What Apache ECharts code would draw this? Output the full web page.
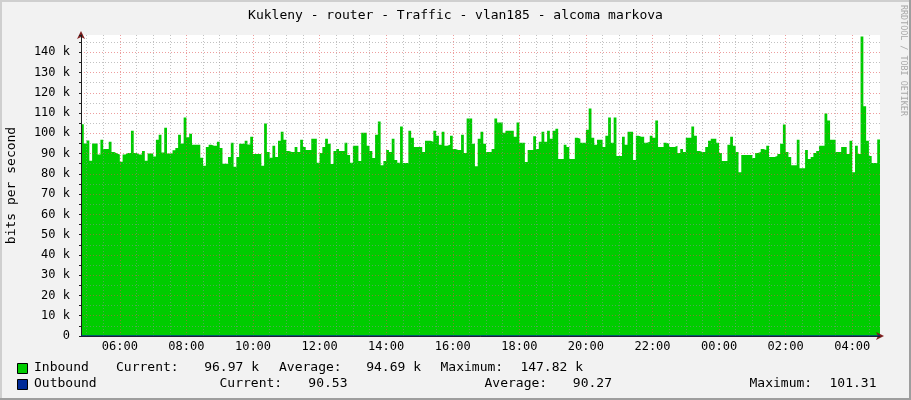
<!DOCTYPE html>
<html>
<head>
<meta charset="utf-8">
<title>Kukleny - router - Traffic - vlan185 - alcoma markova</title>
<script src="https://cdn.jsdelivr.net/npm/echarts@6.0.0/dist/echarts.min.js"></script>
<style>
  html, body { margin: 0; padding: 0; background: #f2f2f2; }
  #trafficChart { width: 911px; height: 400px; }
</style>
</head>
<body>
<div id="trafficChart"></div>
<script>
// 5 minute samples, inbound traffic in k bits per second (04:50 -> 04:50 next day)
const inboundK = [
  104.5, 95, 96.5, 86.5, 95, 95, 89.5, 96.8, 92.3, 92.3, 95.8, 90.8, 90, 89.5, 86, 89.5, 90.3, 90.3,
  101.3, 90.3, 89.5, 89.5, 91.3, 86.5, 90, 90, 88.5, 96.8, 99.3, 90.5, 102.8, 90, 90, 91.7, 92.8, 99.3,
  95, 107.8, 98, 99.8, 94.3, 94.3, 94.3, 88, 84, 93.3, 94.3, 93.8, 93.8, 95.8, 92.8, 85, 85, 88.3,
  95.3, 83.5, 88.3, 94.8, 94.8, 96.3, 94.5, 98.3, 89.8, 89.8, 89.8, 84, 104.8, 90.8, 88, 93.8, 88.3, 96.3,
  100.8, 96.8, 91.3, 90.8, 90.8, 93.3, 90.8, 96.8, 93.3, 91.8, 91.8, 97.3, 97.3, 85.5, 90.3, 93.3, 97.3, 94.8,
  84.8, 91.3, 92.3, 91.3, 91.3, 95.3, 89.3, 85.5, 93.8, 93.8, 86.3, 100.3, 100.3, 93.8, 91.3, 87.8, 99.3, 105.8,
  84.3, 86.3, 91.8, 90.8, 97.3, 86.8, 85.5, 103.3, 85.3, 85.3, 101.3, 97.8, 93.3, 93.3, 93.3, 90.8, 96.3, 96.3,
  95.8, 101.3, 98.8, 94.3, 100.8, 93.8, 94.3, 98.8, 92.3, 91.8, 91.8, 99.3, 90.3, 107.3, 107.3, 94.8, 83.8, 97.3,
  100.8, 94.8, 90.8, 90.8, 92.3, 107.3, 105.3, 105.3, 100.3, 101.3, 101.3, 101.3, 98.3, 105.3, 95.3, 95.3, 85.8, 91.8,
  91.8, 98.5, 92.3, 95.8, 100.8, 95.8, 101.3, 97.3, 101.3, 102.3, 87.3, 87.3, 94.3, 93.3, 87.3, 87.3, 97.8, 97.3,
  95.3, 95.3, 101.8, 112.3, 97.8, 94.3, 96.8, 96.8, 93.3, 98.8, 107.8, 95.3, 107.8, 88.8, 88.8, 98.3, 94.3, 100.8,
  100.8, 86.8, 98.8, 98.3, 98.3, 95.3, 95.8, 98.8, 97.8, 106.3, 93.3, 93.3, 95.3, 94.8, 93.3, 93.3, 93.8, 90.3,
  92.3, 90.8, 97.8, 97.8, 103.3, 98.8, 91.3, 90.8, 90.8, 93.3, 96.3, 97.3, 97.3, 95.3, 90.3, 86.3, 86.3, 94.3,
  98.3, 93.8, 90.8, 80.8, 89.3, 89.3, 89.3, 89.3, 87.8, 90.3, 90.8, 92.3, 91.8, 93.8, 88.3, 88.3, 88.8, 89.8,
  94.8, 104.3, 90.8, 88.3, 84.3, 84.3, 96.8, 82.8, 82.8, 91.8, 87.3, 88.3, 90.3, 91.3, 93.8, 93.8, 109.8, 106.3,
  96.8, 96.8, 90.8, 90.8, 93.3, 93.3, 89.8, 96.3, 80.8, 93.8, 89.8, 147.82, 113.3, 96.3, 88.8, 85.3, 85.3, 96.97
];

// outbound is ~90 bit/s, flat on the zero line at this scale
const outboundMinutes = [290, 1730];
const outboundK = [0.09027, 0.09053];

const startMinute = 290;   // 04:50
const endMinute = 1730;    // 04:50 next day
const stepMinutes = 5;
const yMaxK = 148.5;

const legendNames = ['Inbound', 'Outbound'];
const inboundStats = ['96.97 k', '94.69 k', '147.82 k'];
const outboundStats = ['90.53', '90.27', '101.31'];

const MONO = '"DejaVu Sans Mono", "Liberation Mono", monospace';
const AXIS = '#1f1f1f';
const ARROW = '#801f1f';
const GRID = 'rgba(143, 143, 143, 0.55)';
const MGRID = 'rgba(222, 79, 79, 0.55)';
const CLEAR = 'rgba(0, 0, 0, 0)';
const GREEN = '#00cc00';
const BLUE = '#002a97';

function pad2(n) {
  return n < 10 ? `0${n}` : `${n}`;
}

function formatClock(minute) {
  if (minute % 120 !== 0) return '';
  const h = Math.floor(minute / 60) % 24;
  return `${pad2(h)}:00`;
}

function formatK(value) {
  if (value % 10 !== 0) return '';
  return value === 0 ? '0' : `${value} k`;
}

// split line colours cycle by tick index, ticks every 10 min starting at startMinute
function xGridColors() {
  const out = [];
  for (let k = 0; k < 12; k += 1) {
    const m = startMinute + k * 10;
    out.push(m % 120 === 0 ? MGRID : m % 30 === 0 ? GRID : CLEAR);
  }
  return out;
}

function yGridColors() {
  return [0, 5].map((v) => (v % 10 === 0 ? MGRID : GRID));
}

function buildInbound() {
  const points = inboundK.map((v, i) => [startMinute + i * stepMinutes, v]);
  // close the last 5 minute step at the right edge
  points.push([endMinute, inboundK[inboundK.length - 1]]);
  return points;
}

function legendText(text, x, y, align) {
  return {
    type: 'text',
    silent: true,
    style: {
      text,
      x,
      y,
      textAlign: align || 'left',
      textVerticalAlign: 'middle',
      font: `13px ${MONO}`,
      fill: '#000'
    }
  };
}

function legendSwatch(color, y) {
  return {
    type: 'rect',
    silent: true,
    shape: { x: 17.5, y, width: 10, height: 10 },
    style: { fill: color, stroke: '#000', lineWidth: 1 }
  };
}

const chart = echarts.init(document.getElementById('trafficChart'), null, { renderer: 'canvas' });

const plotGrid = { left: 81, right: 31, top: 35, bottom: 64, containLabel: false, outerBoundsMode: 'none' };

chart.setOption({
  animation: false,
  backgroundColor: '#f2f2f2',
  title: {
    text: 'Kukleny - router - Traffic - vlan185 - alcoma markova',
    left: 'center',
    top: 4,
    textStyle: { fontFamily: MONO, fontSize: 13, fontWeight: 'normal', color: '#000' }
  },
  grid: [
    Object.assign({ backgroundColor: '#ffffff', show: true, borderWidth: 0 }, plotGrid),
    Object.assign({}, plotGrid)
  ],
  xAxis: [
    {
      type: 'value',
      gridIndex: 0,
      min: startMinute,
      max: endMinute,
      interval: 10,
      z: 4,
      axisLine: { show: true, onZero: false, lineStyle: { color: AXIS, width: 1 } },
      axisTick: { show: false },
      axisLabel: {
        formatter: formatClock,
        margin: 5,
        color: '#000',
        fontFamily: MONO,
        fontSize: 12
      },
      splitLine: {
        show: true,
        showMinLine: true,
        showMaxLine: false,
        lineStyle: { color: xGridColors(), width: 1, type: [1, 2] }
      }
    },
    {
      type: 'value',
      gridIndex: 1,
      min: startMinute,
      max: endMinute,
      z: 3,
      axisLine: {
        show: true,
        onZero: false,
        symbol: ['none', 'arrow'],
        symbolSize: [6, 8],
        symbolOffset: [0, 4],
        lineStyle: { color: ARROW, width: 1 }
      },
      axisTick: { show: false },
      axisLabel: { show: false },
      splitLine: { show: false }
    }
  ],
  yAxis: [
    {
      type: 'value',
      gridIndex: 0,
      min: 0,
      max: yMaxK,
      interval: 5,
      z: 4,
      name: 'bits per second',
      nameLocation: 'middle',
      nameGap: 63,
      nameRotate: 90,
      nameTextStyle: { fontFamily: MONO, fontSize: 13, color: '#000' },
      axisLine: { show: true, lineStyle: { color: AXIS, width: 1 } },
      axisTick: { show: true, length: 2, lineStyle: { color: AXIS } },
      axisLabel: {
        formatter: formatK,
        margin: 11,
        color: '#000',
        fontFamily: MONO,
        fontSize: 12
      },
      splitLine: {
        show: true,
        showMaxLine: false,
        lineStyle: { color: yGridColors(), width: 1, type: [1, 2] }
      }
    },
    {
      type: 'value',
      gridIndex: 1,
      min: 0,
      max: yMaxK,
      z: 3,
      axisLine: {
        show: true,
        symbol: ['none', 'arrow'],
        symbolSize: [6, 8],
        symbolOffset: [0, 4],
        lineStyle: { color: ARROW, width: 1 }
      },
      axisTick: { show: false },
      axisLabel: { show: false },
      splitLine: { show: false }
    }
  ],
  series: [
    {
      name: legendNames[0],
      type: 'line',
      xAxisIndex: 0,
      yAxisIndex: 0,
      step: 'end',
      showSymbol: false,
      symbol: 'none',
      z: 2,
      lineStyle: { width: 0, color: GREEN },
      areaStyle: { color: GREEN, opacity: 1 },
      data: buildInbound()
    },
    {
      name: legendNames[1],
      type: 'line',
      xAxisIndex: 0,
      yAxisIndex: 0,
      showSymbol: false,
      symbol: 'none',
      z: 6,
      lineStyle: { width: 1, color: BLUE },
      data: outboundMinutes.map((m, i) => [m, outboundK[i]])
    }
  ],
  graphic: [
    // rrdtool style frame shading
    { type: 'rect', silent: true, shape: { x: 0, y: 0, width: 911, height: 2 }, style: { fill: '#cfcfcf' } },
    { type: 'rect', silent: true, shape: { x: 0, y: 0, width: 2, height: 400 }, style: { fill: '#cfcfcf' } },
    { type: 'rect', silent: true, shape: { x: 0, y: 398, width: 911, height: 2 }, style: { fill: '#9e9e9e' } },
    { type: 'rect', silent: true, shape: { x: 909, y: 0, width: 2, height: 400 }, style: { fill: '#9e9e9e' } },
    {
      type: 'text',
      silent: true,
      x: 903,
      y: 5,
      rotation: -Math.PI / 2,
      style: {
        text: 'RRDTOOL / TOBI OETIKER',
        textAlign: 'left',
        textVerticalAlign: 'middle',
        font: `8.4px ${MONO}`,
        fill: '#a8a8a8'
      }
    },
    legendSwatch(GREEN, 363.5),
    legendText(legendNames[0], 34, 368),
    legendText('Current:', 116, 368),
    legendText(inboundStats[0], 259, 368, 'right'),
    legendText('Average:', 279, 368),
    legendText(inboundStats[1], 421, 368, 'right'),
    legendText('Maximum:', 440.5, 368),
    legendText(inboundStats[2], 583, 368, 'right'),
    legendSwatch(BLUE, 379.5),
    legendText(legendNames[1], 34, 384),
    legendText('Current:', 219.5, 384),
    legendText(outboundStats[0], 347.5, 384, 'right'),
    legendText('Average:', 484.5, 384),
    legendText(outboundStats[1], 612, 384, 'right'),
    legendText('Maximum:', 749.5, 384),
    legendText(outboundStats[2], 876.5, 384, 'right')
  ]
});

window.addEventListener('resize', () => chart.resize());
</script>
</body>
</html>
